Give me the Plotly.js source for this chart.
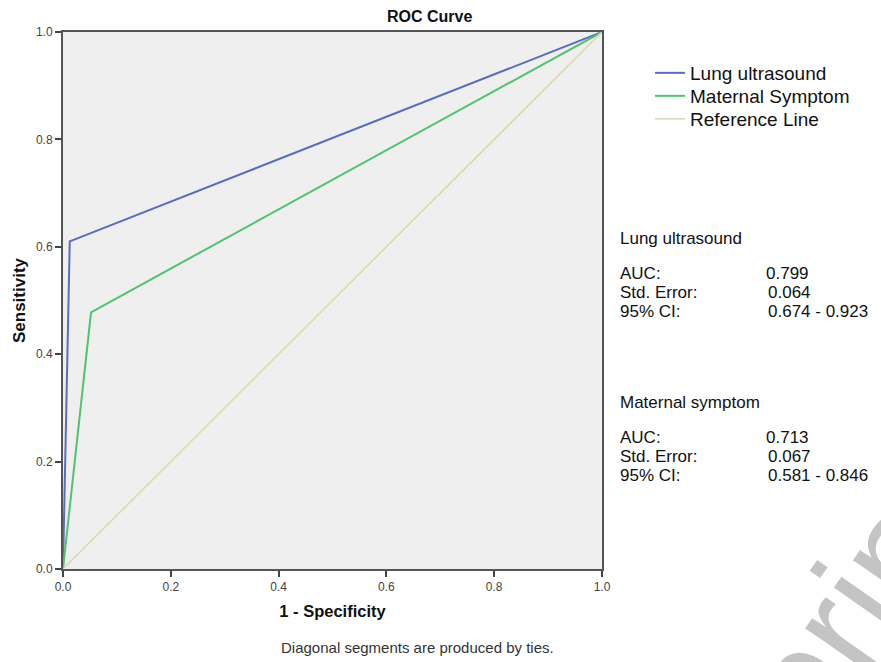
<!DOCTYPE html>
<html>
<head>
<meta charset="utf-8">
<script src="https://cdn.plot.ly/plotly-3.0.1.min.js"></script>
<style>html,body{margin:0;padding:0;background:#fff;}#chart{width:881px;height:662px;}</style>
</head>
<body>
<div id="chart"></div>
<script>
// ROC points (1 - Specificity, Sensitivity)
const lungX = [0, 0.0125, 1];
const lungY = [0, 0.610, 1];
const matX = [0, 0.052, 1];
const matY = [0, 0.478, 1];
const refX = [0, 1];
const refY = [0, 1];
const seriesNames = ["Lung ultrasound", "Maternal Symptom", "Reference Line"];
const statGroups = ["Lung ultrasound", "Maternal symptom"];
const statLabels = ["AUC:", "Std. Error:", "95% CI:"];
const lungStats = ["0.799", "0.064", "0.674 - 0.923"];
const matStats = ["0.713", "0.067", "0.581 - 0.846"];
const tickVals = [0, 0.2, 0.4, 0.6, 0.8, 1.0];
const tickText = ["0.0", "0.2", "0.4", "0.6", "0.8", "1.0"];

const FONT = "Liberation Sans, Arial, sans-serif";

const pxToPaperX = px => (px - 63.3) / 538.7;
const pxToPaperY = py => (569 - py) / 537;

const traces = [
  {x: lungX, y: lungY, name: seriesNames[0], mode: "lines", line: {color: "#5a6cbd", width: 2}, legend: "legend"},
  {x: matX, y: matY, name: seriesNames[1], mode: "lines", line: {color: "#52c270", width: 2}, legend: "legend2"},
  {x: refX, y: refY, name: seriesNames[2], mode: "lines", line: {color: "#dad7ad", width: 1.5}, legend: "legend3"}
];

function legendAt(py) {
  return {x: pxToPaperX(650), y: pxToPaperY(py), xanchor: "left", yanchor: "middle",
    font: {family: FONT, size: 19, color: "#111"}, bgcolor: "rgba(0,0,0,0)", borderwidth: 0};
}

const annotations = [];
function addText(text, px, py, opts) {
  annotations.push(Object.assign({
    text: text, xref: "paper", yref: "paper", x: pxToPaperX(px), y: pxToPaperY(py),
    xanchor: "left", yanchor: "middle", showarrow: false, borderpad: 0,
    font: {family: FONT, size: 17, color: "#111"}
  }, opts || {}));
}
const groups = [
  {title: statGroups[0], vals: lungStats, y0: 238, rows: [273, 292, 311]},
  {title: statGroups[1], vals: matStats, y0: 402, rows: [437, 456, 475]}
];
groups.forEach(g => {
  addText(g.title, 619, g.y0);
  statLabels.forEach((lab, i) => {
    addText(lab, 619, g.rows[i]);
    addText(g.vals[i], i === 0 ? 765 : 767, g.rows[i]);
  });
});
// title
addText("<b>ROC Curve</b>", 430, 17, {xanchor: "center", font: {family: FONT, size: 16, color: "#111"}});
// footnote
addText("Diagonal segments are produced by ties.", 280, 647, {font: {family: FONT, size: 15, color: "#333"}});
// watermark
addText("Preprints", 812, 666, {xanchor: "center", textangle: -55, font: {family: FONT, size: 150, color: "#c4c4c4"}});

const axisCommon = {
  range: [0, 1], tickvals: tickVals, ticktext: tickText, ticks: "outside", ticklen: 6,
  tickwidth: 2, tickcolor: "#444", showline: true, linecolor: "#555", linewidth: 2,
  mirror: true, showgrid: false, zeroline: false, fixedrange: true,
  tickfont: {family: FONT, size: 12, color: "#444"}
};

const layout = {
  width: 881, height: 662,
  margin: {l: 63, r: 279, t: 32, b: 93},
  paper_bgcolor: "#ffffff", plot_bgcolor: "#efefef",
  showlegend: true,
  legend: legendAt(73),
  legend2: legendAt(96),
  legend3: legendAt(119),
  xaxis: Object.assign({}, axisCommon, {
    title: {text: "<b>1 - Specificity</b>", font: {family: FONT, size: 16.5, color: "#111"}, standoff: 12}
  }),
  yaxis: Object.assign({}, axisCommon, {
    title: {text: "<b>Sensitivity</b>", font: {family: FONT, size: 17, color: "#111"}, standoff: 6}
  }),
  annotations: annotations
};

Plotly.newPlot("chart", traces, layout, {displayModeBar: false, staticPlot: true});
</script>
</body>
</html>
